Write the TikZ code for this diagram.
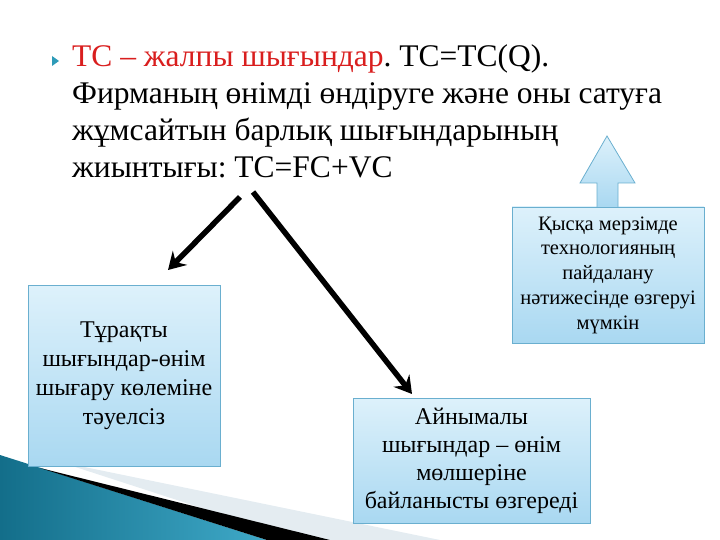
\documentclass[tikz,border=0pt]{standalone}
\usepackage{fontspec}
\setmainfont{Liberation Serif}
\usetikzlibrary{arrows.meta}
\definecolor{boxline}{HTML}{6AAFCF}
\definecolor{boxtop}{HTML}{DDF1FB}
\definecolor{boxbot}{HTML}{A9D8F1}
\definecolor{headred}{HTML}{D91E1E}
\definecolor{bullteal}{HTML}{2E9BB8}
\definecolor{wavedark}{HTML}{136E8A}
\definecolor{wavelight}{HTML}{3FA9C8}
\definecolor{wavepale}{HTML}{E4ECF1}
\frenchspacing

\begin{document}
\begin{tikzpicture}[x=1pt, y=-1pt,
  infobox/.style={draw=boxline, line width=0.8pt, top color=boxtop, bottom color=boxbot,
    align=center, inner sep=2pt},
  bigarrow/.style={line width=5.5pt, -{Stealth[length=17pt,width=20pt,inset=6pt]}}]
\useasboundingbox (0,0) rectangle (720,540);
% bottom corner decoration
\fill[wavepale] (60,462) -- (440,540) -- (300,540) -- cycle;
\shade[left color=wavedark, right color=wavelight] (0,455) -- (267,540) -- (0,540) -- cycle;
\fill[black] (40,468) -- (330,540) -- (267,540) -- cycle;
% heading text
\fill[bullteal] (52,56) -- (59,61) -- (52,66) -- cycle;
\node[anchor=north west, align=left, inner sep=0pt, font=\fontsize{31.5}{37}\selectfont] (head) at (72,44)
  {\textcolor{headred}{TC -- жалпы шығындар}. TC=TC(Q).\\
   Фирманың өнімді өндіруге және оны сатуға\\
   жұмсайтын барлық шығындарының\\
   жиынтығы: TC=FC+VC};
% boxes
\node[infobox, minimum width=192pt, minimum height=181pt, font=\fontsize{24}{29}\selectfont] (fixed) at (124,376)
  {Тұрақты\\шығындар-өнім\\шығару көлеміне\\тәуелсіз};
\node[infobox, minimum width=237pt, minimum height=125pt, font=\fontsize{24}{28}\selectfont] (var) at (471.5,460.5)
  {Айнымалы\\шығындар -- өнім\\мөлшеріне\\байланысты өзгереді};
\node[infobox, minimum width=192pt, minimum height=136pt, font=\fontsize{20.5}{24.75}\selectfont] (short) at (608,275)
  {Қысқа мерзімде\\технологияның\\пайдалану\\нәтижесінде өзгеруі\\мүмкін};
% block arrow up
\draw[boxline, line width=0.8pt, top color=boxtop, bottom color=boxbot]
  (597,207) -- (597,183) -- (580,183) -- (607,136) -- (635,183) -- (618,183) -- (618,207);
% connectors
\coordinate (s1) at (240,197);
\coordinate (s2) at (253,192);
\coordinate (t1) at (168,270);
\coordinate (t2) at (412,394);
\draw[bigarrow] (s1) -- (t1);
\draw[bigarrow] (s2) -- (t2);
\end{tikzpicture}
\end{document}
